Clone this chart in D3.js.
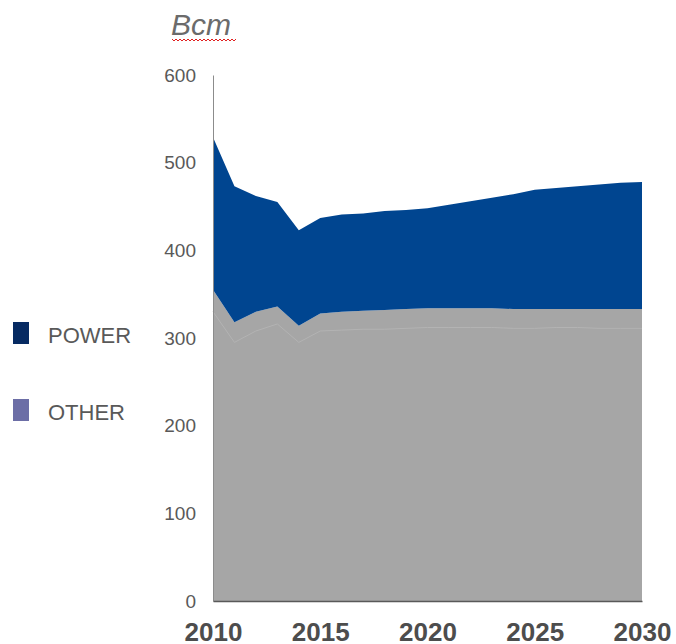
<!DOCTYPE html>
<meta charset="utf-8">
<style>
    body { margin: 0; background: #fff; }
    text { font-family: "Liberation Sans", Arial, sans-serif; }
</style>
<body>
<script src="https://d3js.org/d3.v7.min.js"></script>
<script>
var years = d3.range(2010, 2031)
// stacked tops (Bcm)
var otherValues = [355, 318, 330, 336, 314, 328, 330, 331, 332, 333, 334, 334, 334, 334, 333, 333, 333, 333, 333, 333, 333]
var powerValues = [174, 155, 132, 119, 109, 109, 111, 111, 113, 113, 114, 118, 122, 126, 131, 136, 138, 140, 142, 144, 145]
// faint inner edge inside the grey area
var innerLine = [330, 295, 308, 316, 295, 308, 309, 310, 310, 311, 312, 312, 312, 312, 311, 311, 312, 312, 311, 311, 311]
var yTicks = [0, 100, 200, 300, 400, 500, 600]
var xTicks = [2010, 2015, 2020, 2025, 2030]
var legendItems = ['POWER', 'OTHER']
var legendColors = ['#062a62', '#6c6ea6']

var width = 676
var height = 644

var data = years.map(function (y, i) {
    return { year: y, other: otherValues[i], power: powerValues[i], inner: innerLine[i] }
})

var x = d3.scaleLinear().domain([2010, 2030]).range([213, 642])
var y = d3.scaleLinear().domain([0, 600]).range([601, 75])

var svg = d3.select('body').append('svg')
    .attr('width', width)
    .attr('height', height)

var stack = d3.stack().keys(['other', 'power'])
var series = stack(data)
var fills = { other: '#a6a6a6', power: '#004590' }

var area = d3.area()
    .x(function (d) { return x(d.data.year) })
    .y0(function (d) { return y(d[0]) })
    .y1(function (d) { return y(d[1]) })

svg.selectAll('.layer')
    .data(series)
    .enter().append('path')
    .attr('class', 'layer')
    .attr('d', area)
    .style('fill', function (d) { return fills[d.key] })

svg.append('path')
    .datum(data)
    .attr('d', d3.line()
        .x(function (d) { return x(d.year) })
        .y(function (d) { return y(d.inner) }))
    .style('fill', 'none')
    .style('stroke', '#b3b3b3')
    .style('stroke-width', 1)

// axes
var yAxis = svg.append('g')
    .attr('transform', 'translate(' + x(2010) + ',0)')
    .call(d3.axisLeft(y).tickValues(yTicks).tickSize(0).tickPadding(17))
yAxis.select('.domain').attr('stroke', '#8c8c8c')
yAxis.selectAll('text')
    .style('font-size', '19px')
    .style('fill', '#595959')

var xAxis = svg.append('g')
    .attr('transform', 'translate(0,' + y(0) + ')')
    .call(d3.axisBottom(x).tickValues(xTicks).tickFormat(d3.format('d')).tickSize(0).tickPadding(22))
xAxis.select('.domain').attr('stroke', '#595959').attr('stroke-width', 1.5)
xAxis.selectAll('text')
    .style('font-size', '26px')
    .style('font-weight', 'bold')
    .style('fill', '#4d4d4d')

// unit label
svg.append('text')
    .attr('x', 171)
    .attr('y', 35)
    .style('font-size', '30px')
    .style('font-style', 'italic')
    .style('fill', '#6b6b6b')
    .text('Bcm')

var squiggle = d3.range(0, 33).map(function (i) { return [172 + i * 2, 39 + (i % 2) * 2] })
svg.append('path')
    .attr('d', d3.line()(squiggle))
    .style('fill', 'none')
    .style('stroke', '#e02020')
    .style('stroke-width', 1)

// legend
var legend = svg.selectAll('.legend')
    .data(legendItems)
    .enter().append('g')
    .attr('class', 'legend')
    .attr('transform', function (d, i) { return 'translate(13,' + (322 + i * 77) + ')' })

legend.append('rect')
    .attr('width', 16)
    .attr('height', 22)
    .style('fill', function (d, i) { return legendColors[i] })

legend.append('text')
    .attr('x', 35)
    .attr('y', 21)
    .style('font-size', '22px')
    .style('fill', '#595959')
    .text(function (d) { return d })
</script>
</body>
